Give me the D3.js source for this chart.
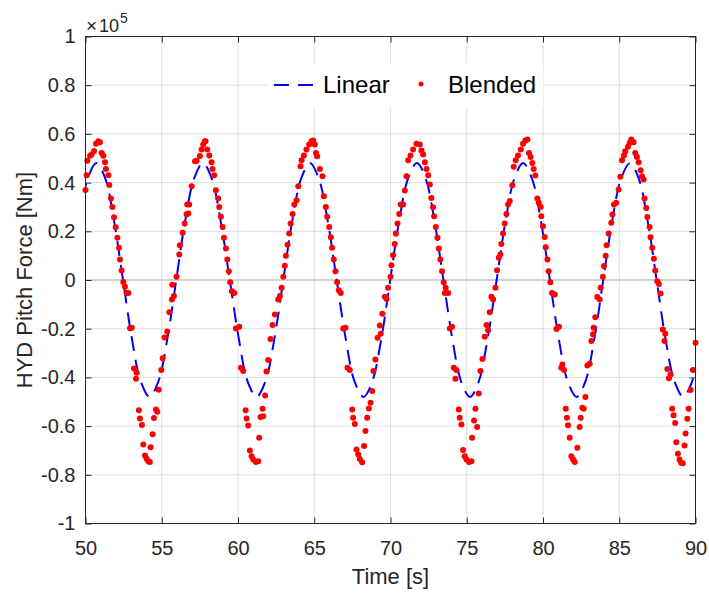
<!DOCTYPE html>
<html>
<head>
<meta charset="utf-8">
<script src="https://cdn.jsdelivr.net/npm/d3@7"></script>
<style>
    body { margin: 0; background: #fff; }
    svg { display: block; font-family: "Liberation Sans", Arial, Helvetica, sans-serif; }
</style>
</head>
<body>
<div id="chart"></div>
<script>
// axis ticks
const xTicks = [50, 55, 60, 65, 70, 75, 80, 85, 90];
const yTicks = [-1, -0.8, -0.6, -0.4, -0.2, 0, 0.2, 0.4, 0.6, 0.8, 1];
const yTickLabels = ['-1', '-0.8', '-0.6', '-0.4', '-0.2', '0', '0.2', '0.4', '0.6', '0.8', '1'];
const seriesNames = ['Linear', 'Blended'];

// [time s, force x10^5 Nm]
const linearPoints = [
    [49.56, 0.24], [50.14, 0.416], [50.72, 0.48], [51.30, 0.416], [51.88, 0.24], [52.46, 0],
    [53.04, -0.24], [53.62, -0.416], [54.20, -0.48], [54.78, -0.416], [55.37, -0.24], [55.95, 0],
    [56.53, 0.24], [57.12, 0.416], [57.70, 0.48], [58.28, 0.416], [58.87, 0.24], [59.46, 0],
    [60.05, -0.24], [60.63, -0.416], [61.22, -0.48], [61.80, -0.416], [62.39, -0.24], [62.97, 0],
    [63.55, 0.24], [64.14, 0.416], [64.72, 0.48], [65.30, 0.416], [65.89, 0.24], [66.47, 0],
    [67.06, -0.24], [67.64, -0.416], [68.23, -0.48], [68.81, -0.416], [69.40, -0.24], [69.98, 0],
    [70.56, 0.24], [71.15, 0.416], [71.73, 0.48], [72.31, 0.416], [72.89, 0.24], [73.47, 0],
    [74.05, -0.24], [74.63, -0.416], [75.21, -0.48], [75.79, -0.416], [76.37, -0.24], [76.96, 0],
    [77.54, 0.24], [78.12, 0.416], [78.70, 0.48], [79.28, 0.416], [79.87, 0.24], [80.45, 0],
    [81.03, -0.24], [81.62, -0.416], [82.20, -0.48], [82.78, -0.416], [83.37, -0.24], [83.95, 0],
    [84.53, 0.24], [85.12, 0.416], [85.70, 0.48], [86.28, 0.416], [86.87, 0.24], [87.45, 0],
    [88.03, -0.24], [88.62, -0.416], [89.20, -0.48], [89.78, -0.416], [90.37, -0.24]
];

const blendedPoints = [
    [50.00, 0.37], [50.08, 0.43], [50.12, 0.49], [50.30, 0.51], [50.40, 0.515], [50.56, 0.53], [50.69, 0.56],
    [50.84, 0.57], [50.95, 0.566], [51.06, 0.522], [51.17, 0.51], [51.28, 0.484], [51.34, 0.456], [51.50, 0.43],
    [51.56, 0.39], [51.67, 0.335], [51.76, 0.30], [51.87, 0.258], [51.98, 0.217], [52.09, 0.173], [52.20, 0.132],
    [52.26, 0.084], [52.37, 0.039], [52.48, -0.008], [52.59, -0.028], [52.70, -0.053], [52.81, -0.053],
    [52.92, -0.198], [53.03, -0.196], [53.18, -0.363], [53.35, -0.381], [53.31, -0.406], [53.50, -0.535],
    [53.57, -0.569], [53.70, -0.595], [53.79, -0.676], [53.90, -0.721], [54.00, -0.734], [54.12, -0.744],
    [54.22, -0.747], [54.27, -0.687], [54.40, -0.633], [54.49, -0.567], [54.62, -0.532], [54.71, -0.541],
    [54.80, -0.451], [54.97, -0.37], [55.06, -0.321], [55.19, -0.236], [55.36, -0.211], [55.50, -0.132],
    [55.67, -0.08], [55.80, -0.066], [55.69, -0.02], [55.97, 0.013], [56.15, 0.105], [56.19, 0.143],
    [56.37, 0.194], [56.50, 0.232], [56.63, 0.27], [56.74, 0.273], [56.67, 0.31], [56.80, 0.31], [56.96, 0.385],
    [57.18, 0.488], [57.29, 0.49], [57.50, 0.509], [57.61, 0.536], [57.72, 0.556], [57.83, 0.57],

    [57.87, 0.57], [57.98, 0.536], [58.12, 0.511], [58.27, 0.484], [58.33, 0.456], [58.44, 0.43], [58.55, 0.369],
    [58.70, 0.335], [58.77, 0.30], [58.88, 0.26], [58.99, 0.218], [59.08, 0.173], [59.21, 0.129], [59.30, 0.084],
    [59.40, 0.036], [59.49, -0.009], [59.60, -0.046], [59.75, -0.053], [59.86, -0.199], [60.08, -0.192],
    [60.19, -0.36], [60.34, -0.374], [60.50, -0.535], [60.56, -0.569], [60.67, -0.598], [60.78, -0.70],
    [60.89, -0.724], [61.00, -0.737], [61.17, -0.747], [61.33, -0.744], [61.39, -0.648], [61.48, -0.563],
    [61.61, -0.529], [61.65, -0.56], [61.78, -0.474], [61.87, -0.376], [61.98, -0.329], [62.13, -0.242],
    [62.27, -0.185], [62.42, -0.142], [62.64, -0.08], [62.75, -0.066], [62.86, -0.032], [62.97, 0.013],
    [63.07, 0.059], [63.14, 0.10], [63.25, 0.145], [63.36, 0.191], [63.45, 0.232], [63.58, 0.271], [63.69, 0.31],
    [63.84, 0.328], [63.95, 0.385], [64.10, 0.467], [64.17, 0.492], [64.32, 0.511], [64.49, 0.536], [64.67, 0.556],
    [64.82, 0.57], [64.93, 0.573], [65.04, 0.556], [65.11, 0.522], [65.19, 0.508], [65.37, 0.456], [65.54, 0.426],
    [65.63, 0.344], [65.76, 0.30], [65.85, 0.26], [65.98, 0.218],

    [66.09, 0.176], [66.17, 0.132], [66.28, 0.084], [66.39, 0.036], [66.50, -0.009], [66.61, -0.042],
    [66.74, -0.053], [66.90, -0.199], [67.05, -0.196], [67.18, -0.36], [67.33, -0.37], [67.49, -0.532],
    [67.55, -0.566], [67.66, -0.591], [67.77, -0.696], [67.88, -0.717], [67.99, -0.735], [68.14, -0.748],
    [68.27, -0.682], [68.36, -0.62], [68.47, -0.566], [68.58, -0.528], [68.69, -0.504], [68.80, -0.456],
    [68.88, -0.374], [69.01, -0.326], [69.15, -0.237], [69.30, -0.187], [69.36, -0.221], [69.47, -0.139],
    [69.63, -0.069], [69.74, -0.078], [69.84, -0.032], [70.00, 0.013], [70.06, 0.061], [70.17, 0.102],
    [70.28, 0.148], [70.35, 0.191], [70.46, 0.232], [70.57, 0.271], [70.67, 0.31], [70.83, 0.31], [70.94, 0.368],
    [71.05, 0.426], [71.16, 0.492], [71.31, 0.511], [71.48, 0.536], [71.70, 0.56], [71.92, 0.556], [72.03, 0.532],

    [72.14, 0.515], [72.25, 0.484], [72.36, 0.456], [72.47, 0.43], [72.58, 0.392], [72.68, 0.337], [72.79, 0.299],
    [72.86, 0.262], [72.97, 0.218], [73.08, 0.173], [73.17, 0.129], [73.27, 0.084], [73.38, 0.036],
    [73.49, -0.009], [73.62, -0.032], [73.78, -0.053], [73.56, -0.053], [73.89, -0.199], [74.04, -0.192],
    [74.15, -0.36], [74.32, -0.37], [74.26, -0.406], [74.48, -0.532], [74.54, -0.566], [74.65, -0.593],
    [74.76, -0.698], [74.87, -0.724], [74.98, -0.737], [75.15, -0.747], [75.31, -0.744], [75.35, -0.648],
    [75.48, -0.577], [75.57, -0.529], [75.68, -0.604], [75.79, -0.466], [75.90, -0.374], [76.03, -0.324],
    [76.18, -0.233], [76.29, -0.185], [76.40, -0.206], [76.51, -0.132], [76.62, -0.069], [76.73, -0.08],
    [76.88, -0.032], [76.99, 0.04], [77.10, 0.091], [77.21, 0.105], [77.27, 0.148], [77.38, 0.191],
    [77.49, 0.232], [77.60, 0.271], [77.71, 0.31], [77.82, 0.324], [77.99, 0.389], [78.08, 0.465],
    [78.21, 0.492], [78.36, 0.511],

    [78.54, 0.536], [78.69, 0.56], [78.84, 0.573], [78.98, 0.577], [79.08, 0.522], [79.19, 0.505], [79.30, 0.481],
    [79.39, 0.456], [79.50, 0.429], [79.63, 0.335], [79.72, 0.317], [79.85, 0.30], [79.89, 0.262], [80.00, 0.221],
    [80.11, 0.177], [80.18, 0.135], [80.29, 0.084], [80.37, 0.036], [80.48, -0.009], [80.59, -0.053],
    [80.77, -0.06], [80.88, -0.201], [81.05, -0.192], [81.20, -0.36], [81.38, -0.37], [81.27, -0.347],
    [81.49, -0.529], [81.57, -0.566], [81.64, -0.597], [81.75, -0.648], [81.86, -0.724], [81.97, -0.737],
    [82.08, -0.747], [82.25, -0.689], [82.40, -0.604], [82.47, -0.566], [82.58, -0.525], [82.67, -0.529],
    [82.78, -0.48], [82.91, -0.351], [83.06, -0.344], [83.17, -0.251], [83.28, -0.223], [83.32, -0.196],
    [83.43, -0.153], [83.56, -0.07], [83.72, -0.08], [83.78, -0.032], [83.93, 0.013], [84.00, 0.057],
    [84.11, 0.10], [84.17, 0.143], [84.30, 0.191], [84.48, 0.235], [84.55, 0.269], [84.65, 0.31],

    [84.80, 0.317], [84.96, 0.372], [85.07, 0.424], [85.18, 0.492], [85.31, 0.511], [85.39, 0.529], [85.57, 0.547],
    [85.68, 0.563], [85.79, 0.577], [85.94, 0.566], [86.05, 0.522], [86.16, 0.505], [86.27, 0.484], [86.40, 0.451],
    [86.49, 0.426], [86.60, 0.413], [86.66, 0.335], [86.77, 0.296], [86.84, 0.259], [86.99, 0.218], [87.05, 0.176],
    [87.16, 0.132], [87.27, 0.087], [87.36, 0.039], [87.49, -0.005], [87.60, -0.016], [87.71, -0.055],
    [87.86, -0.203], [88.02, -0.221], [87.97, -0.251], [88.15, -0.365], [88.26, -0.404], [88.37, -0.388],
    [88.47, -0.529], [88.56, -0.555], [88.67, -0.587], [88.74, -0.666], [88.85, -0.714], [88.95, -0.737],
    [89.06, -0.751], [89.17, -0.753], [89.28, -0.68], [89.35, -0.63], [89.46, -0.57], [89.55, -0.529],
    [89.68, -0.452], [89.83, -0.37], [90.00, -0.258]
];

const config = {
    width: 709,
    height: 596,
    margin: { top: 36.5, right: 13.5, bottom: 72.5, left: 85.5 },
    ink: '#262626',
    grid: '#dfdfdf',
    lineColor: '#0000ff',
    dotColor: '#ff0000',
    dash: '15,9'
};

const boundedWidth = config.width - config.margin.left - config.margin.right;
const boundedHeight = config.height - config.margin.top - config.margin.bottom;

const xScale = d3.scaleLinear().domain([50, 90]).range([0, boundedWidth]);
const yScale = d3.scaleLinear().domain([-1, 1]).range([boundedHeight, 0]);

const svg = d3.select('#chart')
    .append('svg')
    .attr('width', config.width)
    .attr('height', config.height);

const viz = svg.append('g')
    .attr('transform', `translate(${config.margin.left},${config.margin.top})`);

// grid
viz.append('g').selectAll('line')
    .data(xTicks.slice(1, -1))
    .join('line')
    .attr('x1', d => xScale(d)).attr('x2', d => xScale(d))
    .attr('y1', 0).attr('y2', boundedHeight)
    .attr('stroke', config.grid);

viz.append('g').selectAll('line')
    .data(yTicks.slice(1, -1))
    .join('line')
    .attr('x1', 0).attr('x2', boundedWidth)
    .attr('y1', d => yScale(d)).attr('y2', d => yScale(d))
    .attr('stroke', d => d === 0 ? '#d2d2d2' : config.grid)
    .attr('stroke-width', d => d === 0 ? 2 : 1);

// clip for the line
svg.append('defs').append('clipPath').attr('id', 'plotClip')
    .append('rect')
    .attr('width', boundedWidth)
    .attr('height', boundedHeight);

const line = d3.line()
    .x(d => xScale(d[0]))
    .y(d => yScale(d[1]))
    .curve(d3.curveCatmullRom);

viz.append('path')
    .datum(linearPoints)
    .attr('clip-path', 'url(#plotClip)')
    .attr('fill', 'none')
    .attr('stroke', config.lineColor)
    .attr('stroke-width', 2)
    .attr('stroke-dasharray', config.dash)
    .attr('d', line);

viz.append('g').selectAll('circle')
    .data(blendedPoints)
    .join('circle')
    .attr('cx', d => xScale(d[0]))
    .attr('cy', d => yScale(d[1]))
    .attr('r', 3)
    .attr('fill', config.dotColor);

// axes (ticks point inward on all four sides)
const styleAxis = g => {
    g.select('.domain').remove();
    g.selectAll('.tick line').attr('stroke', config.ink);
    g.selectAll('.tick text')
        .attr('fill', config.ink)
        .style('font-size', '20px');
};

viz.append('g')
    .attr('transform', `translate(0,${boundedHeight})`)
    .call(d3.axisBottom(xScale).tickValues(xTicks).tickSize(-6).tickPadding(17).tickFormat(d3.format('d')))
    .call(styleAxis);

viz.append('g')
    .call(d3.axisBottom(xScale).tickValues(xTicks).tickSize(6).tickFormat(''))
    .call(styleAxis);

viz.append('g')
    .call(d3.axisLeft(yScale).tickValues(yTicks).tickSize(-6).tickPadding(10)
        .tickFormat((d, i) => yTickLabels[i]))
    .call(styleAxis);

viz.append('g')
    .attr('transform', `translate(${boundedWidth},0)`)
    .call(d3.axisLeft(yScale).tickValues(yTicks).tickSize(6).tickFormat(''))
    .call(styleAxis);

viz.append('rect')
    .attr('width', boundedWidth)
    .attr('height', boundedHeight)
    .attr('fill', 'none')
    .attr('stroke', config.ink);

// exponent label
const expo = svg.append('g').attr('fill', config.ink);
expo.append('text').attr('x', 86).attr('y', 32).style('font-size', '19px').text('×');
expo.append('text').attr('x', 99).attr('y', 32).style('font-size', '18px').text('10');
expo.append('text').attr('x', 120).attr('y', 22.5).style('font-size', '14px').text('5');

// axis titles
svg.append('text')
    .attr('x', config.margin.left + boundedWidth / 2)
    .attr('y', 584)
    .attr('text-anchor', 'middle')
    .attr('fill', config.ink)
    .style('font-size', '22px')
    .text('Time [s]');

svg.append('text')
    .attr('transform', `translate(32,${config.margin.top + boundedHeight / 2}) rotate(-90)`)
    .attr('text-anchor', 'middle')
    .attr('fill', config.ink)
    .style('font-size', '22px')
    .text('HYD Pitch Force [Nm]');

// legend
const legend = svg.append('g');
legend.append('rect')
    .attr('x', 268).attr('y', 63)
    .attr('width', 275).attr('height', 44)
    .attr('fill', '#fff');
legend.append('line')
    .attr('x1', 274).attr('x2', 313)
    .attr('y1', 85).attr('y2', 85)
    .attr('stroke', config.lineColor)
    .attr('stroke-width', 2)
    .attr('stroke-dasharray', config.dash);
legend.append('text')
    .attr('x', 323).attr('y', 93)
    .style('font-size', '24px')
    .attr('fill', '#000')
    .text(seriesNames[0]);
legend.append('circle')
    .attr('cx', 421).attr('cy', 84)
    .attr('r', 2.5)
    .attr('fill', config.dotColor);
legend.append('text')
    .attr('x', 448).attr('y', 93)
    .style('font-size', '24px')
    .attr('fill', '#000')
    .text(seriesNames[1]);
</script>
</body>
</html>
